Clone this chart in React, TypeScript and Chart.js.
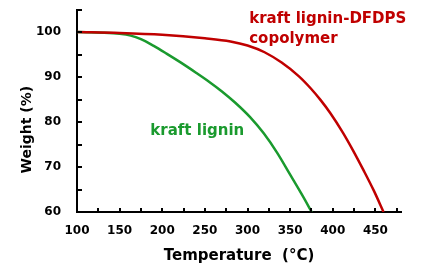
import React, { useEffect, useRef } from "react";
import { Chart, registerables } from "chart.js";

Chart.register(...registerables);

// Data
const ligninTemps = [100, 130, 150, 163, 175, 190, 205, 221, 240, 256, 270, 285, 303, 319, 335, 350, 364, 375.3];
const ligninWeights = [100, 99.85, 99.6, 99.2, 98.4, 96.9, 95.2, 93.3, 90.9, 88.8, 86.8, 84.4, 81.1, 77.5, 73.1, 68.3, 63.8, 60];

const copolymerTemps = [100, 150, 200, 250, 280, 300, 320, 340, 360, 374, 386, 397, 412, 424, 436, 448, 459.5];
const copolymerWeights = [100, 99.8, 99.4, 98.6, 97.9, 97.0, 95.5, 93.2, 90.2, 87.5, 84.8, 82.0, 77.6, 73.6, 69.3, 64.8, 60];

const xTickLabels = [100, 150, 200, 250, 300, 350, 400, 450];
const yTickLabels = [60, 70, 80, 90, 100];

const seriesNames = ["kraft lignin", "kraft lignin-DFDPS copolymer"];

const RED = "#c00000";
const GREEN = "#1a9a2e";
const FONT = "'DejaVu Sans', Verdana, sans-serif";

const annotations = [
  { lines: ["kraft lignin-DFDPS", "copolymer"], t: 302, w: 102.1, color: RED },
  { lines: ["kraft lignin"], t: 186, w: 77.1, color: GREEN },
];

const decorPlugin = {
  id: "decor",
  afterDraw(chart: any) {
    const { ctx } = chart;
    const xs = chart.scales.x;
    const ys = chart.scales.y;
    ctx.save();
    // inward tick marks
    ctx.strokeStyle = "#000";
    ctx.lineWidth = 2;
    ctx.beginPath();
    xs.ticks.forEach((t: any) => {
      const px = Math.round(xs.getPixelForValue(t.value));
      ctx.moveTo(px, xs.top);
      ctx.lineTo(px, xs.top - 4);
    });
    ys.ticks.forEach((t: any) => {
      const py = Math.round(ys.getPixelForValue(t.value));
      ctx.moveTo(ys.right, py);
      ctx.lineTo(ys.right + 5, py);
    });
    ctx.stroke();
    // annotations
    ctx.textAlign = "left";
    ctx.textBaseline = "alphabetic";
    ctx.font = `bold 15px ${FONT}`;
    annotations.forEach((a) => {
      const px = xs.getPixelForValue(a.t);
      const py = ys.getPixelForValue(a.w);
      ctx.fillStyle = a.color;
      a.lines.forEach((ln, i) => ctx.fillText(ln, px, py + i * 20));
    });
    // y title
    ctx.translate(27.5, (ys.top + ys.bottom) / 2 + 19);
    ctx.rotate(-Math.PI / 2);
    ctx.textAlign = "center";
    ctx.textBaseline = "middle";
    ctx.fillStyle = "#000";
    ctx.font = `bold 14px ${FONT}`;
    ctx.fillText("Weight (%)", 0, 0);
    ctx.restore();
  },
};

export default function App() {
  const ref = useRef<HTMLCanvasElement | null>(null);
  useEffect(() => {
    if (!ref.current) return;
    const chart = new Chart(ref.current, {
      type: "line",
      data: {
        datasets: [
          {
            label: seriesNames[1],
            data: copolymerTemps.map((t, i) => ({ x: t, y: copolymerWeights[i] })),
            borderColor: RED,
            borderWidth: 2.5,
            pointRadius: 0,
            cubicInterpolationMode: "monotone",
            fill: false,
          },
          {
            label: seriesNames[0],
            data: ligninTemps.map((t, i) => ({ x: t, y: ligninWeights[i] })),
            borderColor: GREEN,
            borderWidth: 2.5,
            pointRadius: 0,
            cubicInterpolationMode: "monotone",
            fill: false,
          },
        ],
      },
      options: {
        animation: false,
        responsive: false,
        layout: { padding: { top: 9.5, right: 24, left: 0, bottom: 0 } },
        plugins: { legend: { display: false }, tooltip: { enabled: false } },
        scales: {
          x: {
            type: "linear",
            min: 100,
            max: 480,
            afterFit: (s: any) => {
              s.height = 57;
              s.paddingRight = 0;
            },
            ticks: {
              stepSize: 25,
              includeBounds: false,
              autoSkip: false,
              maxRotation: 0,
              padding: 12,
              color: "#000",
              font: { family: FONT, weight: "bold", size: 12 },
              callback: (v: any) => (xTickLabels.includes(Number(v)) ? String(v) : ""),
            },
            grid: { drawOnChartArea: false, drawTicks: false },
            border: { display: true, color: "#000", width: 2 },
            title: {
              display: true,
              text: "Temperature  (°C)",
              color: "#000",
              font: { family: FONT, weight: "bold", size: 15 },
              padding: { top: 0, bottom: 4 },
            },
          },
          y: {
            type: "linear",
            min: 60,
            max: 105,
            afterFit: (s: any) => {
              s.width = 77;
              s.paddingTop = 0;
              s.paddingBottom = 0;
            },
            ticks: {
              stepSize: 5,
              autoSkip: false,
              padding: 16,
              color: "#000",
              font: { family: FONT, weight: "bold", size: 12 },
              callback: (v: any) => (yTickLabels.includes(Number(v)) ? String(v) : ""),
            },
            grid: { drawOnChartArea: false, drawTicks: false },
            border: { display: true, color: "#000", width: 2 },
            title: { display: false },
          },
        },
      },
      plugins: [decorPlugin],
    } as any);
    return () => chart.destroy();
  }, []);
  return (
    <div style={{ position: "absolute", left: 0, top: 0, width: 425, height: 269 }}>
      <canvas ref={ref} width={425} height={269} />
    </div>
  );
}
